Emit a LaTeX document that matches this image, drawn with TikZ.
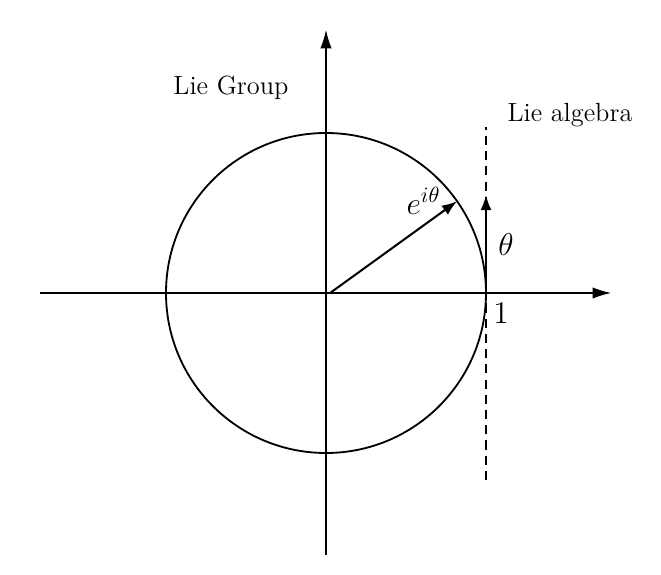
\documentclass[tikz,border=0pt]{standalone}
\usepackage{amsmath, amssymb}
\usepackage{tikz}
\usetikzlibrary{arrows.meta, positioning}

\begin{document}
\begin{tikzpicture}[
        x=80pt/2.03, y=80pt/2.03,
        every node/.style={font=\large, scale=1.08},
        mathlabel/.style={font=\Large, scale=1},
        axis/.style={line width=0.5pt, -{Latex[length=9pt, width=5.5pt]}},
        vec/.style={line width=1pt, -{Latex[length=7.5pt, width=5.5pt]}},
        tangent/.style={line width=1pt, dashed, dash pattern=on 4.5pt off 3pt}
    ]
        \useasboundingbox (-4.075,-3.525) rectangle (4.1875,3.6625);
        \coordinate (O) at (0,0);
        \coordinate (xl) at (-3.575,0);
        \coordinate (xr) at (3.5625,0);
        \coordinate (yb) at (0,-3.275);
        \coordinate (yt) at (0,3.2875);
        \coordinate (one) at (2,0);
        \coordinate (E) at (35:2);
        \coordinate (T) at (2,1.225);
        \coordinate (dt) at (2,2.075);
        \coordinate (db) at (2,-2.3375);
        \draw[axis] (xl) -- (xr);
        \draw[axis] (yb) -- (yt);
        \draw[line width=0.9pt] (O) circle (2);
        \draw[tangent] (db) -- (dt);
        \draw[vec] ([xshift=2pt]O) -- (E);
        \draw[vec] (one) -- (T);
        \node (group) at (-1.1875,2.5625) {Lie Group};
        \node (algebra) at (3.05,2.225) {Lie algebra};
        \node[mathlabel] (exp) at (1.22,1.15) {$e^{i\theta}$};
        \node[mathlabel] (theta) at (2.25,0.6) {$\theta$};
        \node[mathlabel] (unit) at (2.19,-0.25) {$1$};
    \end{tikzpicture}
\end{document}
